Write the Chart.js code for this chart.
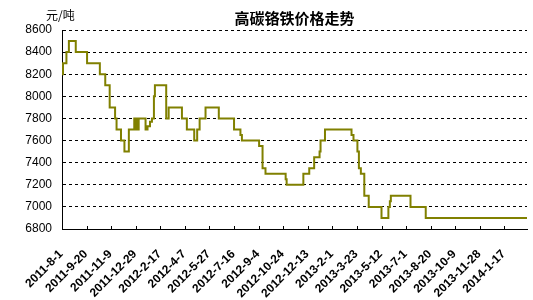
<!DOCTYPE html>
<html>
<head>
<meta charset="utf-8">
<script src="https://cdn.jsdelivr.net/npm/chart.js@4"></script>
<style>
  body { margin: 0; background: #fff; }
</style>
</head>
<body>
<canvas id="priceChart" width="533" height="300"></canvas>
<script>
// tick labels, one every 50 days from 2011-8-1
const xLabels = [
  "2011-8-1", "2011-9-20", "2011-11-9", "2011-12-29", "2012-2-17",
  "2012-4-7", "2012-5-27", "2012-7-16", "2012-9-4", "2012-10-24",
  "2012-12-13", "2013-2-1", "2013-3-23", "2013-5-12", "2013-7-1",
  "2013-8-20", "2013-10-9", "2013-11-28", "2014-1-17"
];

// days since 2011-8-1 when the price changed
const priceDays = [
  0, 2, 9, 14, 28, 51, 77, 88, 97, 108,
  111, 120, 127, 136, 147, 149, 151, 153, 156, 170,
  174, 179, 183, 187, 189, 212, 217, 244, 254, 269,
  275, 280, 292, 319, 350, 363, 366, 401, 408, 414,
  455, 457, 491, 503, 513, 524, 526, 535, 589, 593,
  601, 604, 608, 615, 624, 650, 664, 667, 669, 709,
  740, 946
];

// price (yuan/ton) from that day on
const priceValues = [
  8200, 8300, 8400, 8500, 8400, 8300, 8200, 8100, 7900, 7800,
  7700, 7600, 7500, 7700, 7800, 7700, 7800, 7700, 7800, 7700,
  7730, 7770, 7800, 8000, 8100, 7800, 7900, 7800, 7700, 7600,
  7700, 7800, 7900, 7800, 7700, 7650, 7600, 7550, 7350, 7300,
  7250, 7200, 7300, 7350, 7450, 7500, 7600, 7700, 7650, 7600,
  7500, 7350, 7300, 7100, 7000, 6900, 7000, 7050, 7100, 7000,
  6900, 6900
];

const titleText = "高碳铬铁价格走势";
const unitText = "元/吨";

// title, unit, inward x ticks and the slanted date labels
const extras = {
  id: "extras",
  afterDraw(chart) {
    const ctx = chart.ctx;
    const area = chart.chartArea;
    const x = chart.scales.x;
    ctx.save();
    ctx.fillStyle = "#000";
    ctx.textBaseline = "middle";
    ctx.textAlign = "center";
    ctx.font = "bold 15px 'Noto Sans CJK SC'";
    ctx.fillText(titleText, (area.left + area.right) / 2, 18);
    ctx.textAlign = "left";
    ctx.font = "12px 'Noto Sans CJK SC'";
    ctx.fillText(unitText, 46, 15);

    ctx.strokeStyle = "#000";
    ctx.lineWidth = 1;
    ctx.beginPath();
    x.ticks.forEach(t => {
      const px = Math.round(x.getPixelForValue(t.value)) + 0.5;
      ctx.moveTo(px, area.bottom);
      ctx.lineTo(px, area.bottom - 3);
    });
    ctx.stroke();

    // date labels at 45 degrees, ending just below each tick
    ctx.font = "bold 12px 'Liberation Sans', Arial";
    ctx.textAlign = "right";
    ctx.textBaseline = "top";
    x.ticks.forEach(t => {
      const px = x.getPixelForValue(t.value);
      ctx.save();
      ctx.translate(px - 5, area.bottom + 19);
      ctx.rotate(-Math.PI / 4);
      ctx.fillText(xLabels[Math.round(t.value / 50)], 0, 0);
      ctx.restore();
    });
    ctx.restore();
  }
};

const ctx = document.getElementById("priceChart");

new Chart(ctx, {
  type: "line",
  data: {
    datasets: [
      {
        data: priceDays.map((d, i) => ({ x: d, y: priceValues[i] })),
        borderColor: "#808000",
        borderWidth: 2,
        stepped: true,
        pointRadius: 0,
        fill: false
      }
    ]
  },
  options: {
    responsive: false,
    animation: false,
    layout: {
      padding: { top: 30, right: 6, left: 0, bottom: 0 }
    },
    plugins: {
      legend: { display: false },
      title: { display: false },
      tooltip: { enabled: false }
    },
    scales: {
      x: {
        type: "linear",
        min: 0,
        max: 946,
        afterBuildTicks(scale) {
          scale.ticks = xLabels.map((_, i) => ({ value: i * 50 }));
        },
        afterFit(scale) {
          scale.height = 71;
        },
        grid: { display: false, drawTicks: false },
        border: { display: true, color: "#000", width: 1 },
        ticks: { display: false }
      },
      y: {
        min: 6800,
        max: 8600,
        afterFit(scale) {
          scale.width = 62;
        },
        grid: { color: "#000", lineWidth: 1, drawTicks: false },
        border: { display: true, color: "#000", width: 1, dash: [3, 3] },
        ticks: {
          stepSize: 200,
          padding: 10,
          color: "#000",
          font: { family: "'Liberation Sans', Arial", size: 12 },
          callback: (v) => String(v)
        }
      }
    }
  },
  plugins: [extras]
});
</script>
</body>
</html>
